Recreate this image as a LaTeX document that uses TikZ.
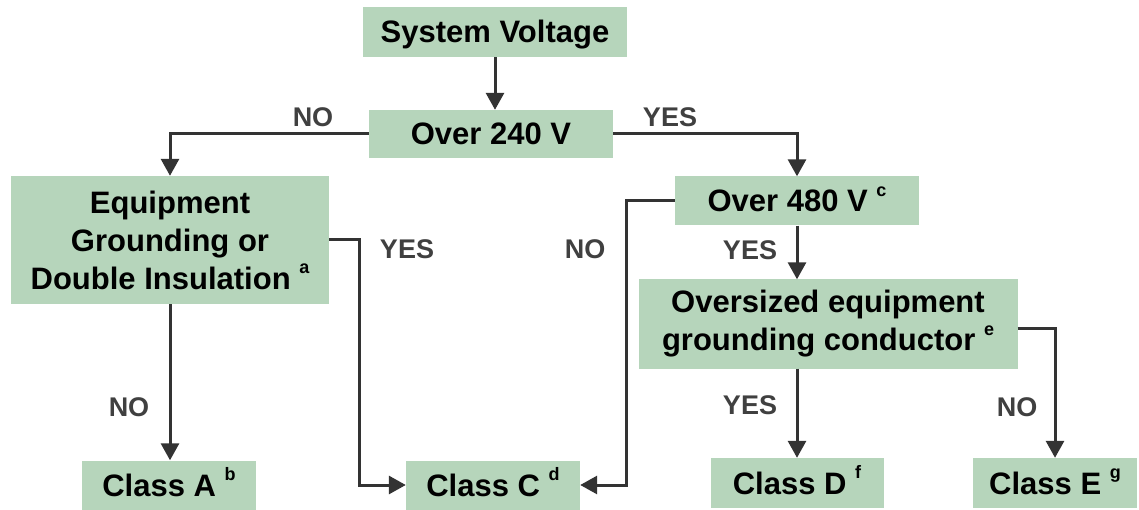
\documentclass[tikz,border=0pt]{standalone}
\usepackage{fontspec}
\setmainfont{Liberation Sans}
\usetikzlibrary{arrows.meta}
\definecolor{boxgreen}{RGB}{182,213,187}
\definecolor{linegray}{RGB}{51,51,51}
\definecolor{labelgray}{RGB}{64,64,64}
\newcommand{\fnote}[1]{\raisebox{0.5em}{\fontsize{18}{18}\selectfont #1}}
\tikzset{
  box/.style={fill=boxgreen, inner sep=0pt, text height=22pt, text depth=0pt,
    font=\fontsize{31}{38}\selectfont\bfseries},
  tallbox/.style={fill=boxgreen, inner sep=0pt, align=center,
    font=\fontsize{31}{38}\selectfont\bfseries},
  answer/.style={text=labelgray, inner sep=0pt,
    font=\fontsize{27}{27}\selectfont\bfseries},
  flow/.style={draw=linegray, line width=3pt,
    -{Triangle[width=18pt,length=17pt]}},
}
\begin{document}
\begin{tikzpicture}[x=1pt,y=-1pt]
\useasboundingbox (0,0) rectangle (1139,510);
% decision boxes
\node[box, minimum width=264pt, minimum height=50pt] (sysv) at (495,32) {System Voltage};
\node[box, minimum width=244pt, minimum height=48pt] (ov240) at (491,134) {Over 240 V};
\node[tallbox, minimum width=318pt, minimum height=128pt] (equip) at (170,240)
  {Equipment\\ Grounding or\\ Double Insulation \fnote{a}};
\node[box, minimum width=244pt, minimum height=49pt] (ov480) at (797,201) {Over 480 V \fnote{c}};
\node[tallbox, minimum width=379pt, minimum height=89pt] (overs) at (828,324)
  {Oversized equipment\\ grounding conductor \fnote{e}};
% classes
\node[box, minimum width=174pt, minimum height=49pt] (clA) at (169,485) {Class A \fnote{b}};
\node[box, minimum width=174pt, minimum height=49pt] (clC) at (493,485) {Class C \fnote{d}};
\node[box, minimum width=173pt, minimum height=50pt] (clD) at (797,483) {Class D \fnote{f}};
\node[box, minimum width=164pt, minimum height=50pt] (clE) at (1055,483) {Class E \fnote{g}};
% answers
\node[answer] (no1) at (313,117) {NO};
\node[answer] (yes1) at (670,117) {YES};
\node[answer] (yes2) at (407,249) {YES};
\node[answer] (no2) at (585,249) {NO};
\node[answer] (yes3) at (750,250) {YES};
\node[answer] (no3) at (129,407) {NO};
\node[answer] (yes4) at (750,405) {YES};
\node[answer] (no4) at (1017,407) {NO};
% connectors
\draw[flow] (sysv.south) -- (sysv.south |- ov240.north);
\draw[flow] (ov240.west) -| (equip.north);
\draw[flow] (ov240.east) -| (ov480.north);
\draw[flow] (equip.south) -- (equip.south |- clA.north);
\draw[flow] (equip.east) -- ++(30,0) |- (clC.west);
\draw[flow] (ov480.west) -- ++(-48,0) |- (clC.east);
\draw[flow] (ov480.south) -- (ov480.south |- overs.north);
\draw[flow] (clD.north |- overs.south) -- (clD.north);
\draw[flow] ([yshift=-4pt]overs.east) -| (clE.north);
\end{tikzpicture}
\end{document}
